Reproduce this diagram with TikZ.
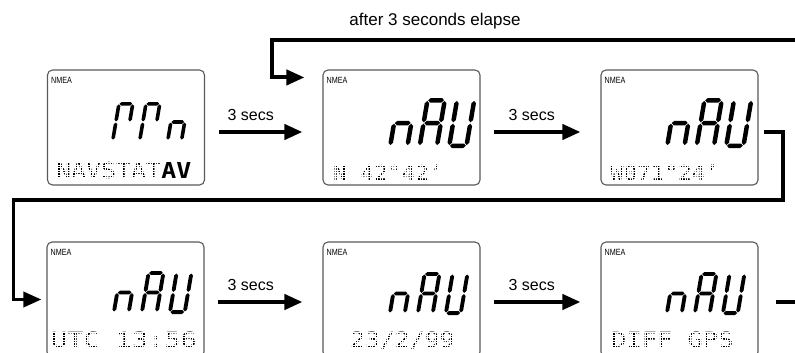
\documentclass[tikz,border=0pt]{standalone}
\usepackage{fontspec}
\setmainfont{Liberation Sans}
\newfontfamily\narrowfont[FakeStretch=0.8]{Liberation Sans}
\newfontfamily\lcdmono{DejaVu Sans Mono}
\usetikzlibrary{arrows.meta,calc}

% seven-segment glyphs (hexagonal segments, slanted)
\newcommand\ssset[3]{\def\sx{#1}\def\sy{#2}\def\sh{#3}%
 \pgfmathsetmacro\sW{0.345*#3}\pgfmathsetmacro\sHh{0.455*#3}%
 \pgfmathsetmacro\sthk{0.045*#3}\pgfmathsetmacro\sgap{0.014*#3}%
 \pgfmathsetmacro\soff{0.045*#3}}
\newcommand\spoint[4]{\pgfmathsetmacro#1{\sx+\soff+(#3)+0.17*(#4)}\pgfmathsetmacro#2{\sy-\soff-(#4)}}
\newcommand\hseg[3]{%
 \pgfmathsetmacro\aU{#1*\sW}\pgfmathsetmacro\bU{#2*\sW}\pgfmathsetmacro\cV{#3*\sHh}%
 \spoint\pxa\pya{\aU+\sgap}{\cV}%
 \spoint\pxb\pyb{\aU+\sgap+\sthk}{\cV+\sthk}%
 \spoint\pxc\pyc{\bU-\sgap-\sthk}{\cV+\sthk}%
 \spoint\pxd\pyd{\bU-\sgap}{\cV}%
 \spoint\pxe\pye{\bU-\sgap-\sthk}{\cV-\sthk}%
 \spoint\pxf\pyf{\aU+\sgap+\sthk}{\cV-\sthk}%
 \fill[segcol] (\pxa,\pya)--(\pxb,\pyb)--(\pxc,\pyc)--(\pxd,\pyd)--(\pxe,\pye)--(\pxf,\pyf)--cycle;}
\newcommand\vseg[3]{%
 \pgfmathsetmacro\aU{#1*\sW}\pgfmathsetmacro\bV{#2*\sHh}\pgfmathsetmacro\cV{#3*\sHh}%
 \spoint\pxa\pya{\aU}{\bV-\sgap}%
 \spoint\pxb\pyb{\aU+\sthk}{\bV-\sgap-\sthk}%
 \spoint\pxc\pyc{\aU+\sthk}{\cV+\sgap+\sthk}%
 \spoint\pxd\pyd{\aU}{\cV+\sgap}%
 \spoint\pxe\pye{\aU-\sthk}{\cV+\sgap+\sthk}%
 \spoint\pxf\pyf{\aU-\sthk}{\bV-\sgap-\sthk}%
 \fill[segcol] (\pxa,\pya)--(\pxb,\pyb)--(\pxc,\pyc)--(\pxd,\pyd)--(\pxe,\pye)--(\pxf,\pyf)--cycle;}
\newcommand\segA{\hseg{0}{1}{2}}
\newcommand\segG{\hseg{0}{1}{1}}
\newcommand\segD{\hseg{0}{1}{0}}
\newcommand\segB{\vseg{1}{2}{1}}
\newcommand\segC{\vseg{1}{1}{0}}
\newcommand\segE{\vseg{0}{1}{0}}
\newcommand\segF{\vseg{0}{2}{1}}
\newcommand\ssn{\segC\segE\segG}
\newcommand\ssA{\segA\segB\segC\segE\segF\segG}
\newcommand\ssU{\segB\segC\segD\segE\segF}
\newcommand\ssPi{\segA\segB\segE\segF}
\newcommand\nAU[4]{\ssset{#1}{#2}{#3}\ssn
 \pgfmathsetmacro\sx{#1+#4}\ssA
 \pgfmathsetmacro\sx{#1+2*#4}\ssU}

\newcommand\maskit[1]{\draw[mask] (#1.south west) grid (#1.north east);}

\tikzset{
 lcd/.style={draw=black!65, line width=1.1pt, rounded corners=5pt,
   minimum width=157pt, minimum height=115pt, inner sep=0pt},
 nmea/.style={anchor=base west, inner sep=0pt, font=\narrowfont\fontsize{9}{10}\selectfont},
 lcdtxt/.style={anchor=base west, inner sep=0pt, text=black},
 flow/.style={line width=4pt, -{Triangle[length=18pt,width=15pt]}},
 secs/.style={flow, shorten <=13.5pt, shorten >=20pt},
 lab/.style={font=\fontsize{16}{18}\selectfont, anchor=base west, inner sep=0pt},
 segcol/.style={fill=black},
 mask/.style={white, line width=0.75pt, step=2.5pt}
}

\begin{document}
\begin{tikzpicture}[x=1pt,y=-1pt]
\useasboundingbox (0,0) rectangle (795,353);

% displays
\node[lcd] (b1) at (126,127.5) {};
\node[lcd] (b2) at (401.5,127.5) {};
\node[lcd] (b3) at (679.5,127.5) {};
\node[lcd] (b4) at (125.5,299.5) {};
\node[lcd] (b5) at (401.5,299.5) {};
\node[lcd] (b6) at (679.5,299.5) {};

\foreach \b in {b1,b2,b3,b4,b5,b6}
  \node[nmea] (m\b) at ($(\b.north west)+(4,14)$) {NMEA};

% seven-segment readouts
\ssset{111}{142}{40}\ssPi
\ssset{138}{142}{40}\ssPi
\ssset{166}{142}{40}\ssn
\nAU{388}{148}{50}{29.5}
\nAU{665}{148}{50}{29.5}
\nAU{112}{314}{43}{28}
\nAU{388}{315}{43}{28}
\nAU{665}{315}{43}{28}

% dot-matrix lines
\node[lcdtxt, font=\lcdmono\fontsize{22}{24}\selectfont] (t1) at (56,178) {\scalebox{1.13}[1]{NAVSTAT}};
\maskit{t1}
\node[lcdtxt, font=\lcdmono\bfseries\fontsize{22}{24}\selectfont] (t1b) at (t1.base east) {\scalebox{1.13}[1]{AV}};
\node[lcdtxt, font=\lcdmono\fontsize{20.5}{24}\selectfont] (t2) at (333,180) {\scalebox{1.11}[1]{N 42°42’}};
\maskit{t2}
\node[lcdtxt, font=\lcdmono\fontsize{20.5}{24}\selectfont] (t3) at (610,180) {\scalebox{1.10}[1]{W071°24’}};
\maskit{t3}
\node[lcdtxt, font=\lcdmono\fontsize{21}{24}\selectfont] (t4) at (51,347.5) {\scalebox{1.28}[1]{UTC 13:56}};
\maskit{t4}
\node[lcdtxt, font=\lcdmono\fontsize{21}{24}\selectfont] (t5) at (350,347.5) {\scalebox{1.18}[1]{23/2/99}};
\maskit{t5}
\node[lcdtxt, font=\lcdmono\fontsize{21}{24}\selectfont] (t6) at (611,347.5) {\scalebox{1.21}[1]{DIFF GPS}};
\maskit{t6}

% 3 secs arrows
\draw[secs] ([yshift=-4.5pt]b1.east) -- ([yshift=-4.5pt]b2.west)
  node[lab, pos=0, xshift=20.5pt, yshift=12pt] (s1) {3 secs};
\draw[secs] ([yshift=-4.5pt]b2.east) -- ([yshift=-4.5pt]b3.west)
  node[lab, pos=0, xshift=26pt, yshift=12pt] (s2) {3 secs};
\draw[secs] ([yshift=-2.5pt]b4.east) -- ([yshift=-2.5pt]b5.west)
  node[lab, pos=0, xshift=21pt, yshift=12pt] (s3) {3 secs};
\draw[secs] ([yshift=-2.5pt]b5.east) -- ([yshift=-2.5pt]b6.west)
  node[lab, pos=0, xshift=26pt, yshift=12pt] (s4) {3 secs};

% return loop
\node[font=\fontsize{17}{20}\selectfont, anchor=base, inner sep=0pt] (top) at (435,26) {after 3 seconds elapse};
\coordinate (rt) at (800,40);
\coordinate (tin) at ($(b2.north west)+(-18,8)$);
\draw[flow] (rt) -| ([xshift=-32pt]tin) -- (tin);

% wrap from first row to second row
\draw[flow, line width=3.5pt] ([xshift=5pt,yshift=-4.5pt]b3.east) -| (783,200)
  -| ([xshift=-33pt]b4.west) -- ([xshift=-5pt]b4.west);

% continuation off the right edge
\coordinate (rb) at (800,302);
\draw[line width=4pt] ([xshift=17pt,yshift=-2.5pt]b6.east) -- (rb);
\end{tikzpicture}
\end{document}
